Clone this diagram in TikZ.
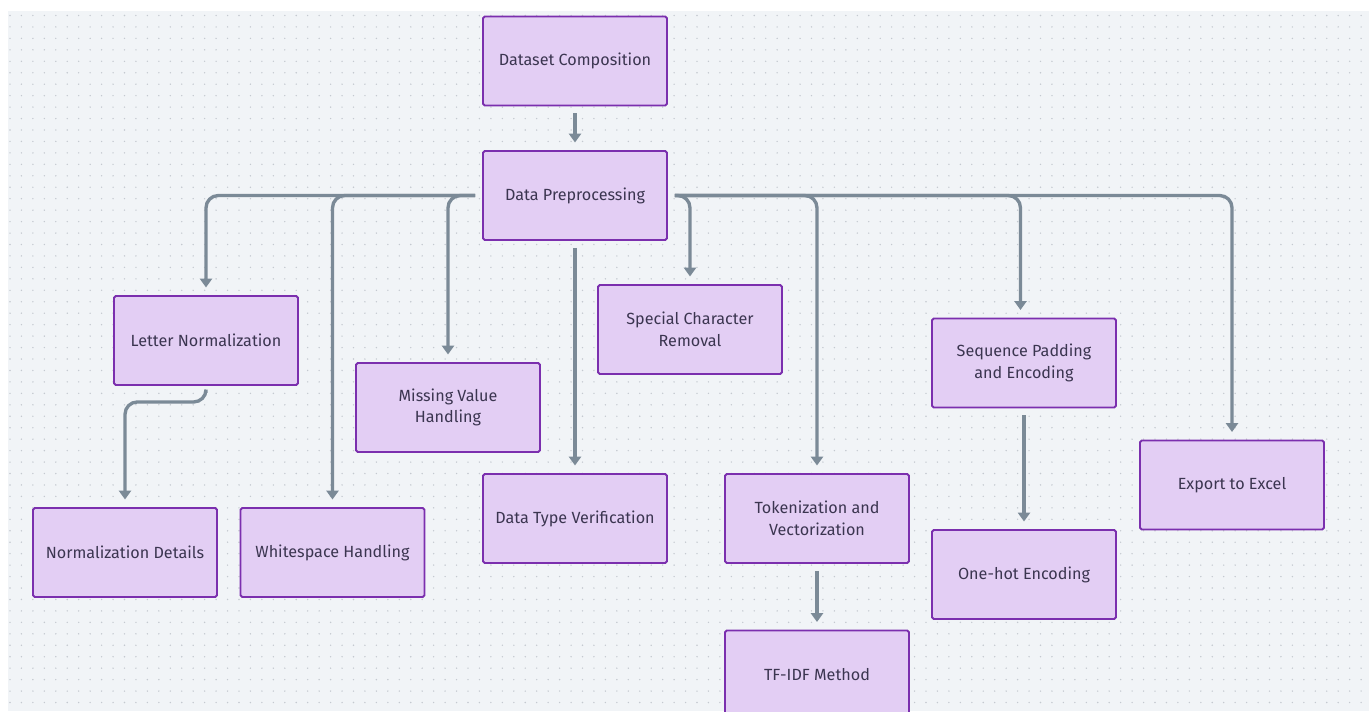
\documentclass[tikz,border=0pt]{standalone}
\usepackage{fontspec}
\setmainfont{Fira Sans}
\usetikzlibrary{arrows.meta}

\definecolor{bgc}{HTML}{F1F4F7}
\definecolor{dotc}{HTML}{C4C9D0}
\definecolor{boxfill}{HTML}{E3CEF4}
\definecolor{boxline}{HTML}{7B2FAE}
\definecolor{txtc}{HTML}{3B3550}
\definecolor{linkc}{HTML}{7B8A97}

\begin{document}
\begin{tikzpicture}[x=0.02cm,y=-0.02cm,
  stepbox/.style={draw=boxline,fill=boxfill,line width=1.1pt,rounded corners=1pt,
    minimum width=3.68cm,minimum height=1.78cm,align=center,
    font=\fontsize{9.2}{12.4}\selectfont,text=txtc},
  link/.style={draw=linkc,line width=1.9pt,rounded corners=7pt,
    -{Triangle[width=6.8pt,length=5pt]},shorten <=4pt,shorten >=4.3pt}]
  \useasboundingbox (0,0) rectangle (1369,711);
  \clip (0,0) rectangle (1369,711);
  \fill[white] (0,0) rectangle (1369,711);
  \fill[bgc] (8,11) rectangle (1369,711);

  % dotted grid
  \foreach \j in {0,...,61}
    \draw[dotc,line width=0.9pt,line cap=round,dash pattern=on 0pt off 11.45*0.02cm]
      (10,15.5+\j*11.45) -- (1369,15.5+\j*11.45);

  \node[stepbox] (dc) at (575,61) {Dataset Composition};
  \node[stepbox] (dp) at (575,195.5) {Data Preprocessing};

  \node[stepbox] (ln) at (206,340.5) {Letter Normalization};
  \node[stepbox] (mv) at (448,407.5) {Missing Value\\Handling};
  \node[stepbox] (sc) at (690,329.5) {Special Character\\Removal};
  \node[stepbox] (sp) at (1024,363) {Sequence Padding\\and Encoding};
  \node[stepbox] (ex) at (1232,485) {Export to Excel};

  \node[stepbox] (nd) at (125,552.5) {Normalization Details};
  \node[stepbox] (wh) at (332.5,552.5) {Whitespace Handling};
  \node[stepbox] (dt) at (575,518.5) {Data Type Verification};
  \node[stepbox] (tv) at (817,518.5) {Tokenization and\\Vectorization};
  \node[stepbox] (oh) at (1024,574.5) {One-hot Encoding};
  \node[stepbox] (tf) at (817,675) {TF-IDF Method};

  \draw[link] (dc) -- (dp);
  \draw[link] (dp.west) -| (ln.north);
  \draw[link] (dp.west) -| (wh.north);
  \draw[link] (dp.west) -| (mv.north);
  \draw[link] (dp) -- (dt);
  \draw[link] (dp.east) -| (sc.north);
  \draw[link] (dp.east) -| (tv.north);
  \draw[link] (dp.east) -| ([xshift=-2]sp.north);
  \draw[link] (dp.east) -| (ex.north);
  \draw[link] (ln.south) -- ++(0,16) -| (nd.north);
  \draw[link] (tv) -- (tf);
  \draw[link] (sp) -- (oh);
\end{tikzpicture}
\end{document}
